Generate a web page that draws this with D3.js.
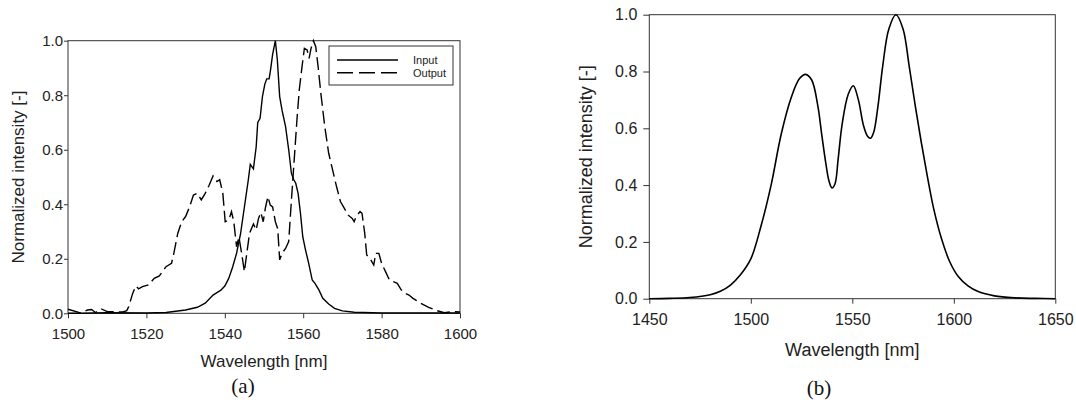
<!DOCTYPE html>
<html>
<head>
<meta charset="utf-8">
<script src="https://cdn.jsdelivr.net/npm/d3@7"></script>
<style>
  body { margin: 0; background: #fff; }
  svg { display: block; font-family: "Liberation Sans", Arial, sans-serif; }
  .axis text { fill: #222; }
  .axis line { stroke: #333; }
</style>
</head>
<body>
<div id="chart"></div>
<script>
// panel (a): measured spectra [wavelength nm, normalized intensity]
var inputSpectrum = [
  [1500,0.015],[1503.6,0.0],[1510,0.002],[1520,0.001],[1525,0.003],[1530,0.012],[1533,0.022],
  [1535,0.037],[1537,0.067],[1538,0.076],[1539,0.085],[1540,0.1],[1541,0.128],[1542,0.17],
  [1543,0.22],[1544,0.29],[1545,0.39],[1546,0.49],[1546.5,0.546],[1547.3,0.53],[1548,0.61],
  [1548.4,0.70],[1549,0.715],[1549.6,0.795],[1550.2,0.84],[1550.7,0.86],[1551.3,0.86],
  [1551.6,0.886],[1552.2,0.95],[1552.9,1.0],[1553.4,0.93],[1554,0.795],[1554.6,0.745],
  [1555.5,0.685],[1556.3,0.6],[1557,0.513],[1557.6,0.49],[1558.1,0.477],[1558.7,0.44],
  [1559.3,0.367],[1559.9,0.28],[1560.6,0.232],[1561.4,0.183],[1562.3,0.122],[1563,0.11],
  [1564,0.086],[1565,0.055],[1566.5,0.034],[1568,0.018],[1570,0.009],[1573,0.004],
  [1580,0.001],[1600,0.001]
];

var outputSpectrum = [
  [1500,0.0],[1503,0.0],[1505,0.012],[1506,0.014],[1507,0.003],[1508.5,0.016],[1510,0.006],
  [1514,0.005],[1515,0.01],[1515.5,0.025],[1516.5,0.073],[1517.3,0.1],[1518,0.09],[1519,0.098],
  [1520.5,0.104],[1522,0.128],[1523.3,0.137],[1525,0.171],[1526.4,0.183],[1527,0.22],
  [1528,0.293],[1529,0.336],[1530,0.355],[1531,0.39],[1532,0.434],[1533,0.44],[1534,0.416],
  [1535,0.44],[1536,0.47],[1537,0.504],[1538,0.483],[1538.7,0.49],[1539.5,0.44],[1540.1,0.336],
  [1541,0.342],[1541.7,0.373],[1542.3,0.336],[1543,0.244],[1543.6,0.28],[1544.3,0.22],
  [1545,0.153],[1545.5,0.208],[1546.3,0.293],[1547.3,0.328],[1548,0.306],[1548.6,0.348],
  [1549.2,0.37],[1549.8,0.336],[1550.4,0.39],[1551,0.428],[1551.6,0.397],[1552.2,0.39],
  [1552.9,0.336],[1553.5,0.31],[1554,0.196],[1554.6,0.22],[1555.5,0.238],[1556.3,0.263],
  [1557,0.416],[1557.7,0.562],[1558.4,0.709],[1559,0.82],[1559.7,0.905],[1560.3,0.972],
  [1561,0.966],[1561.5,0.935],[1562,0.972],[1562.6,1.0],[1563.2,0.978],[1563.8,0.905],
  [1564.5,0.807],[1565.5,0.685],[1566.5,0.587],[1567.5,0.526],[1568.5,0.465],[1569.5,0.41],
  [1570.5,0.385],[1571.5,0.36],[1572.5,0.348],[1573,0.336],[1573.5,0.355],[1574.5,0.373],
  [1575,0.367],[1575.7,0.293],[1576.2,0.214],[1577,0.202],[1578,0.177],[1578.5,0.22],
  [1579.3,0.22],[1580,0.183],[1581,0.153],[1582,0.122],[1583,0.116],[1584,0.11],[1585,0.086],
  [1586,0.073],[1587,0.067],[1588,0.055],[1590,0.037],[1592,0.022],[1594,0.01],[1596,0.002],
  [1598,0.006],[1600,0.005]
];

// panel (b): simulated spectrum
var simSpectrum = [
  [1450,0],[1460,0.001],[1470,0.004],[1480,0.014],[1485,0.026],[1490,0.048],[1495,0.085],
  [1500,0.14],[1505,0.255],[1510,0.4],[1515,0.58],[1520,0.71],[1524,0.775],[1527,0.79],
  [1530,0.77],[1533,0.68],[1535,0.575],[1537,0.475],[1538.5,0.415],[1540,0.39],[1541.5,0.405],
  [1543,0.49],[1545,0.615],[1548,0.72],[1550.5,0.75],[1553,0.7],[1555.5,0.61],[1557.5,0.572],
  [1559,0.565],[1560.5,0.585],[1562.5,0.67],[1565,0.82],[1568,0.95],[1571.5,1.0],[1575,0.95],
  [1578,0.82],[1581,0.68],[1584,0.55],[1587,0.43],[1590,0.32],[1594,0.21],[1598,0.13],
  [1602,0.08],[1607,0.045],[1612,0.025],[1620,0.01],[1630,0.003],[1640,0.001],[1650,0]
];

var xTicksA = [1500, 1520, 1540, 1560, 1580, 1600],
    xTicksB = [1450, 1500, 1550, 1600, 1650],
    yTicks = [0, 0.2, 0.4, 0.6, 0.8, 1.0];

var legendNames = ["Input", "Output"];

var svg = d3.select("#chart").append("svg")
    .attr("width", 1076)
    .attr("height", 403);

function drawPanel(o) {
    var x = d3.scaleLinear().domain(o.xDomain).range([o.left, o.right]);
    var y = d3.scaleLinear().domain([0, 1]).range([o.bottom, o.top]);

    var g = svg.append("g");

    // frame
    g.append("rect")
        .attr("x", o.left).attr("y", o.top)
        .attr("width", o.right - o.left).attr("height", o.bottom - o.top)
        .attr("fill", "none").attr("stroke", "#333").attr("stroke-width", 1);

    // x axis
    var xa = g.append("g")
        .attr("class", "axis")
        .attr("transform", "translate(0," + o.bottom + ")")
        .call(d3.axisBottom(x).tickValues(o.xTicks).tickSize(5).tickPadding(10)
            .tickFormat(d3.format("d")));
    xa.select(".domain").remove();
    xa.selectAll("text").style("font-size", o.tickFont + "px");

    // y axis
    var ya = g.append("g")
        .attr("class", "axis")
        .attr("transform", "translate(" + o.left + ",0)")
        .call(d3.axisLeft(y).tickValues(yTicks).tickSize(o.yTick).tickPadding(o.yPad)
            .tickFormat(d3.format(".1f")));
    ya.select(".domain").remove();
    ya.selectAll("text").style("font-size", o.tickFont + "px");

    // axis titles
    g.append("text")
        .attr("x", (o.left + o.right) / 2)
        .attr("y", o.xTitleY)
        .attr("text-anchor", "middle")
        .style("font-size", o.titleFont + "px")
        .attr("fill", "#222")
        .text("Wavelength [nm]");

    g.append("text")
        .attr("transform", "translate(" + o.yTitleX + "," + ((o.top + o.bottom) / 2) + ") rotate(-90)")
        .attr("text-anchor", "middle")
        .style("font-size", o.titleFont + "px")
        .attr("fill", "#222")
        .text("Normalized intensity [-]");

    // panel letter
    g.append("text")
        .attr("x", o.letterX)
        .attr("y", o.letterY)
        .attr("text-anchor", "middle")
        .style("font-family", "'Liberation Serif', 'Times New Roman', serif")
        .style("font-size", "21px")
        .attr("fill", "#111")
        .text(o.letter);

    return {g: g, x: x, y: y};
}

// (a)
var pa = drawPanel({
    xDomain: [1500, 1600], left: 68, right: 460, top: 40.7, bottom: 313.3,
    xTicks: xTicksA, tickFont: 15, titleFont: 17, yTick: 4, yPad: 1,
    xTitleY: 367, yTitleX: 24, letter: "(a)", letterX: 243, letterY: 393
});

var lineA = d3.line()
    .x(function(d) { return pa.x(d[0]); })
    .y(function(d) { return pa.y(d[1]); });

pa.g.append("path")
    .datum(outputSpectrum)
    .attr("d", lineA)
    .attr("fill", "none").attr("stroke", "#000").attr("stroke-width", 1.4)
    .attr("stroke-dasharray", "13,5");

pa.g.append("path")
    .datum(inputSpectrum)
    .attr("d", lineA)
    .attr("fill", "none").attr("stroke", "#000").attr("stroke-width", 1.4);

// legend
var leg = pa.g.append("g");
leg.append("rect")
    .attr("x", 329).attr("y", 46).attr("width", 124).attr("height", 39)
    .attr("fill", "#fff").attr("stroke", "#333").attr("stroke-width", 1);
legendNames.forEach(function(name, i) {
    var ly = 60 + i * 12.7;
    leg.append("line")
        .attr("x1", 337).attr("x2", 398).attr("y1", ly).attr("y2", ly)
        .attr("stroke", "#000").attr("stroke-width", 1.4)
        .attr("stroke-dasharray", i === 1 ? "16,6" : null);
    leg.append("text")
        .attr("x", 413).attr("y", ly + 4)
        .style("font-size", "11px")
        .attr("fill", "#222")
        .text(name);
});

// (b)
var pb = drawPanel({
    xDomain: [1450, 1650], left: 649.3, right: 1055.3, top: 14.7, bottom: 298.7,
    xTicks: xTicksB, tickFont: 16, titleFont: 18, yTick: 6, yPad: 6,
    xTitleY: 356, yTitleX: 592, letter: "(b)", letterX: 819, letterY: 395
});

pb.g.append("path")
    .datum(simSpectrum)
    .attr("d", d3.line()
        .curve(d3.curveCatmullRom.alpha(0.5))
        .x(function(d) { return pb.x(d[0]); })
        .y(function(d) { return pb.y(d[1]); }))
    .attr("fill", "none").attr("stroke", "#000").attr("stroke-width", 1.6);
</script>
</body>
</html>
